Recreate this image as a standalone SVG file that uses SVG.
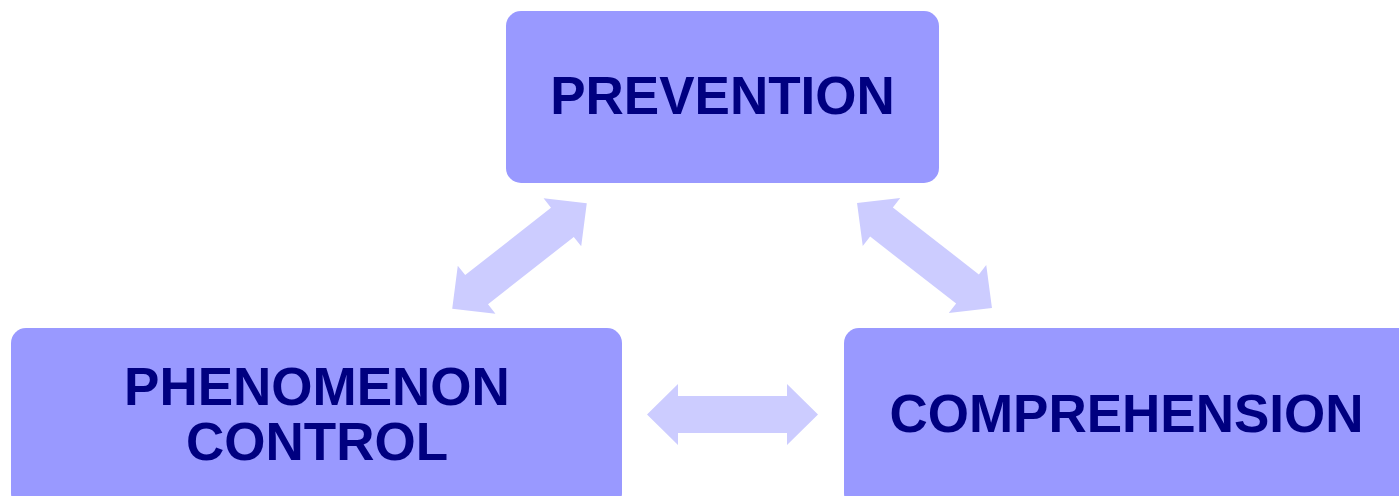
<svg xmlns="http://www.w3.org/2000/svg" xmlns:xlink="http://www.w3.org/1999/xlink" width="1399" height="496" viewBox="0 0 1399 496">
<style>
.box{fill:#9999FF;}
.lbl{font-family:"Liberation Sans",Arial,sans-serif;font-weight:bold;font-size:53px;fill:#000080;text-anchor:middle;}
.arr{fill:#CCCCFF;}
</style>
<defs>
<path id="dbl" d="M-85.5,0 L-54.5,-30.5 L-54.5,-18.5 L54.5,-18.5 L54.5,-30.5 L85.5,0 L54.5,30.5 L54.5,18.5 L-54.5,18.5 L-54.5,30.5 Z"/>
</defs>
<rect width="1399" height="496" fill="#FFFFFF"/>
<g id="connectors">
<use xlink:href="#dbl" href="#dbl" class="arr" transform="translate(519.5,256) rotate(-38.1)"/>
<use xlink:href="#dbl" href="#dbl" class="arr" transform="translate(924.5,255.5) rotate(37.9)"/>
<use xlink:href="#dbl" href="#dbl" class="arr" transform="translate(732.5,414.5)"/>
</g>
<g id="prevention">
<rect class="box" x="506" y="11" width="433" height="172" rx="15"/>
<text class="lbl" x="722.5" y="114">PREVENTION</text>
</g>
<g id="phenomenon-control">
<rect class="box" x="11" y="328" width="611" height="180" rx="15"/>
<text class="lbl" x="317" y="405">PHENOMENON</text>
<text class="lbl" x="317" y="460">CONTROL</text>
</g>
<g id="comprehension">
<rect class="box" x="844" y="328" width="575" height="180" rx="15"/>
<text class="lbl" x="1126.5" y="432">COMPREHENSION</text>
</g>
</svg>
